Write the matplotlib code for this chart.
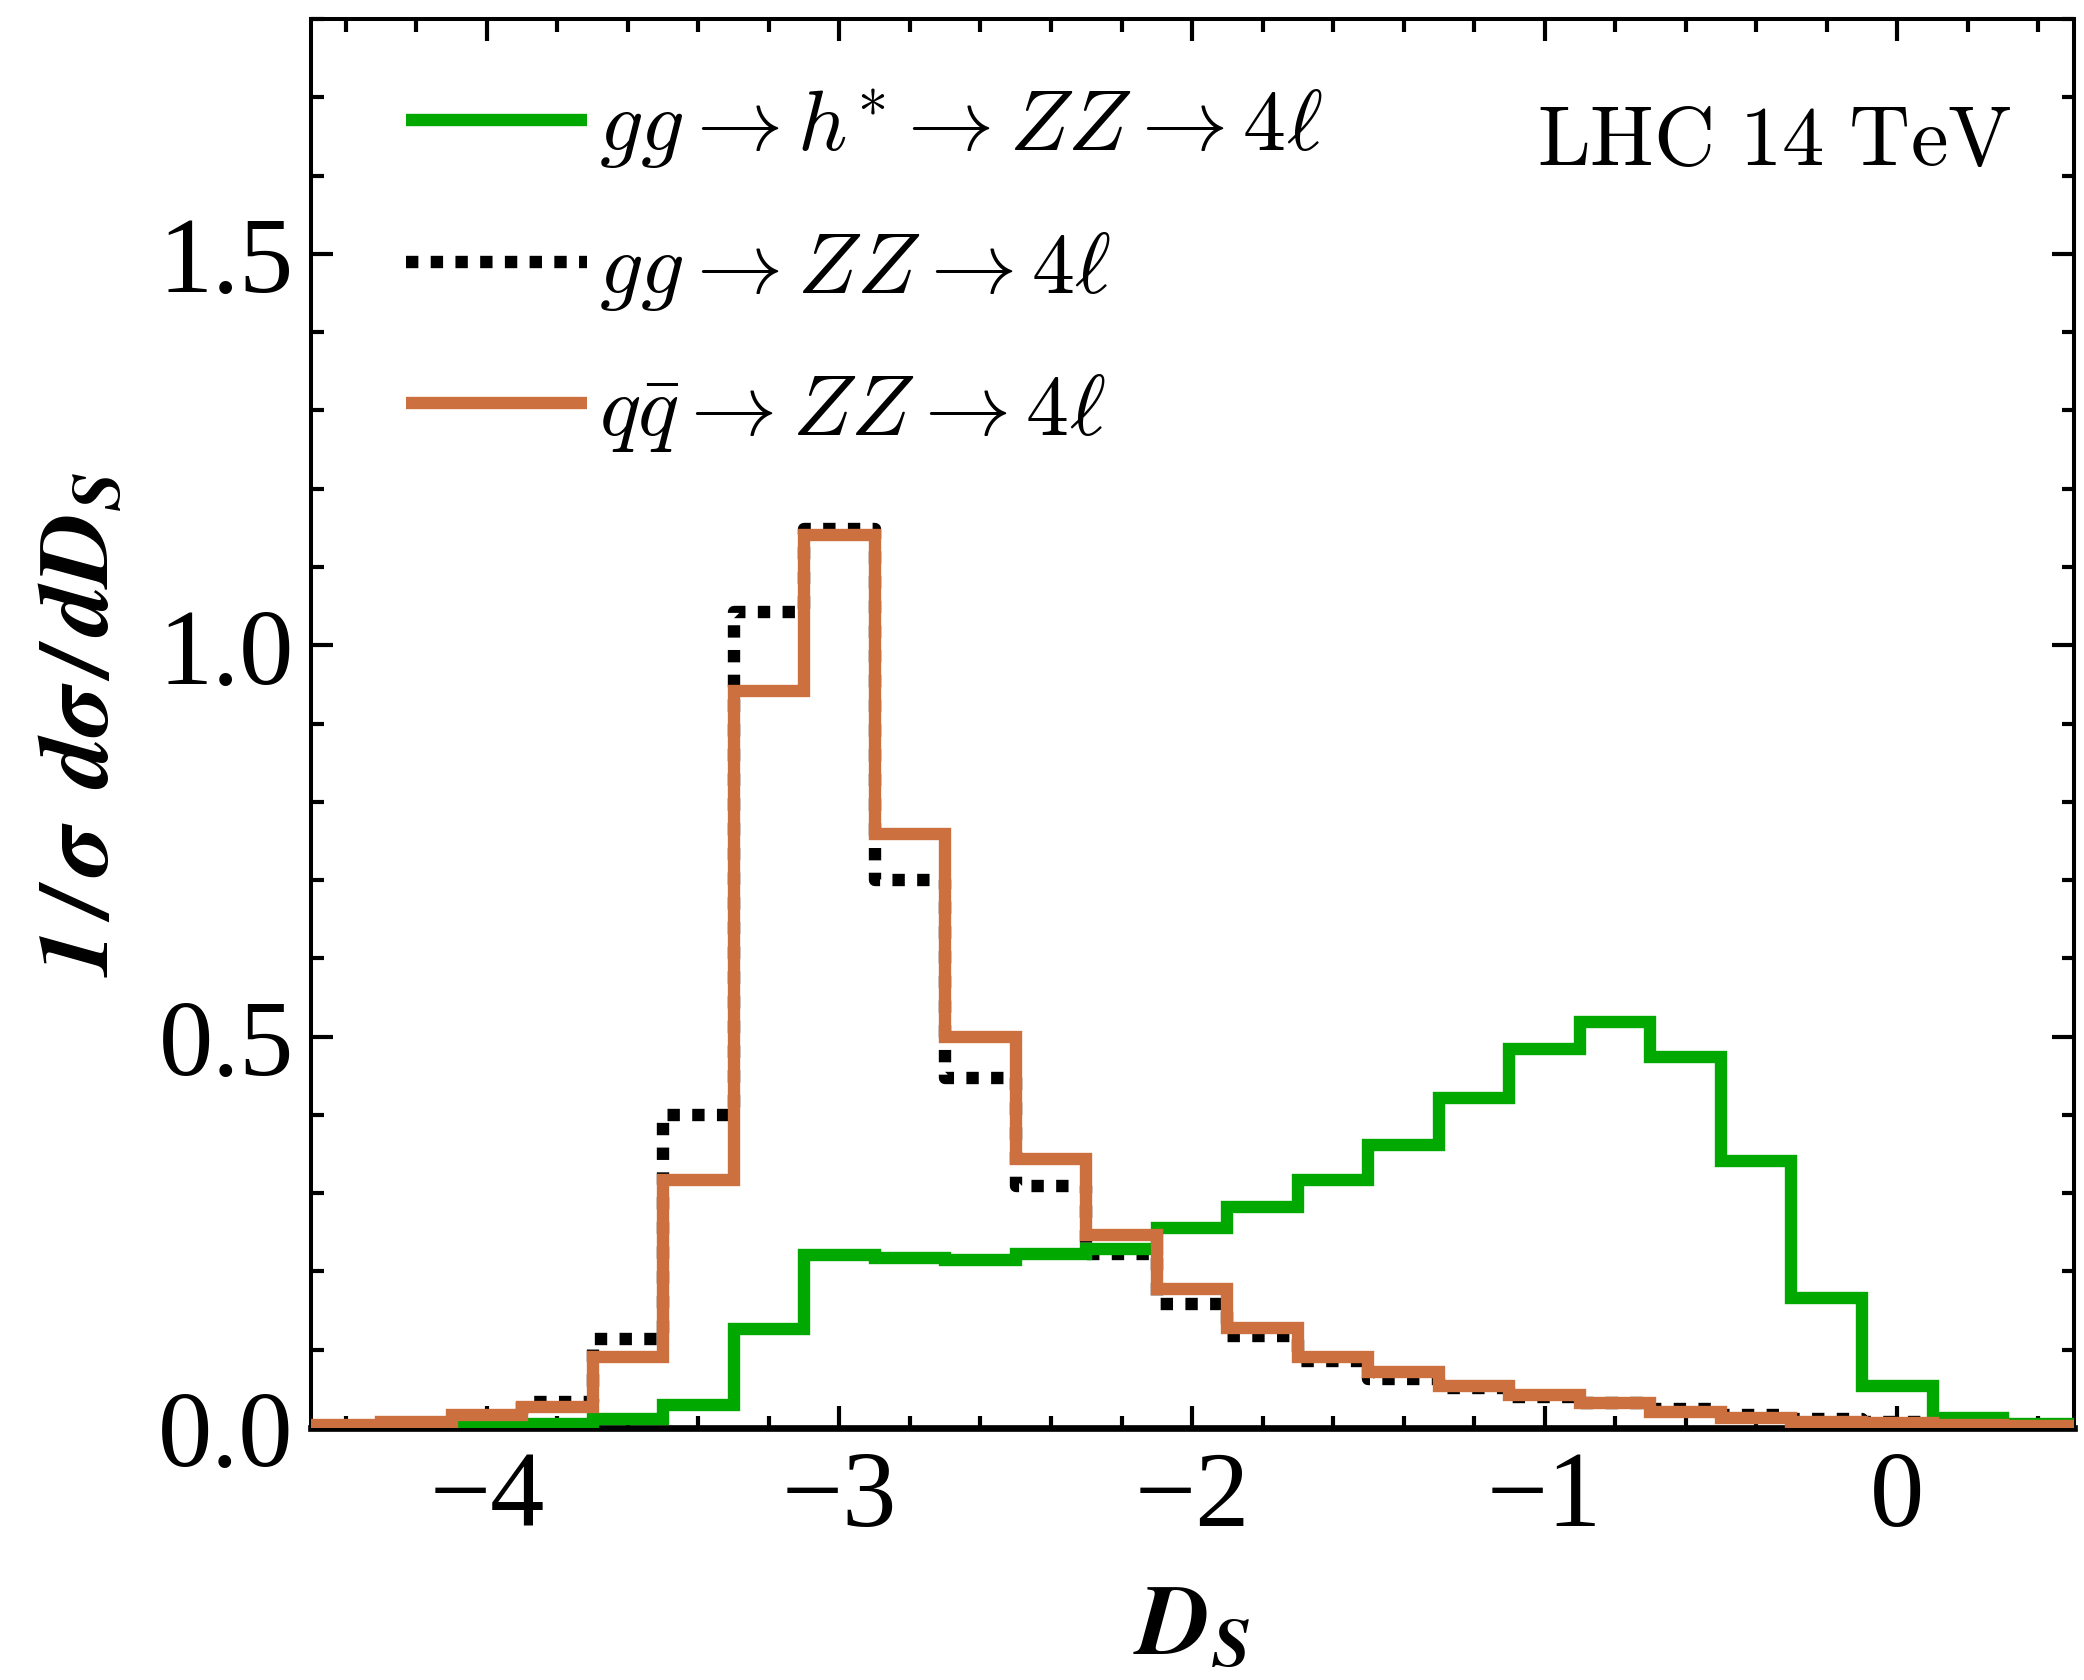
import numpy as np
import matplotlib
matplotlib.use('Agg')
import matplotlib.pyplot as plt
from matplotlib.ticker import MultipleLocator

# bin edges of D_S (width 0.2)
edges = np.round(np.arange(-4.5, 0.5001, 0.2), 2)

# 1/sigma dsigma/dD_S per bin
gg_h = [0.0, 0.0, 0.001, 0.005, 0.011, 0.029, 0.126, 0.221, 0.217, 0.214,
        0.222, 0.228, 0.255, 0.282, 0.317, 0.362, 0.421, 0.484, 0.518, 0.474,
        0.341, 0.166, 0.054, 0.012, 0.005]
gg_zz = [0.002, 0.004, 0.012, 0.033, 0.113, 0.400, 1.043, 1.149, 0.700, 0.447,
         0.309, 0.222, 0.158, 0.117, 0.085, 0.063, 0.051, 0.040, 0.032, 0.024,
         0.017, 0.011, 0.007, 0.004, 0.002]
qq_zz = [0.004, 0.007, 0.017, 0.027, 0.090, 0.317, 0.942, 1.141, 0.759, 0.499,
         0.343, 0.246, 0.178, 0.127, 0.090, 0.071, 0.054, 0.042, 0.032, 0.020,
         0.012, 0.008, 0.006, 0.004, 0.003]

labels = [r'$gg \rightarrow h^{*} \rightarrow ZZ \rightarrow 4\ell$',
          r'$gg \rightarrow ZZ \rightarrow 4\ell$',
          r'$q\bar{q} \rightarrow ZZ \rightarrow 4\ell$']

GREEN = '#00a800'
ORANGE = '#cc7040'

plt.rcParams['mathtext.fontset'] = 'cm'
plt.rcParams['font.family'] = 'Liberation Serif'

fig = plt.figure(figsize=(20.84, 16.81), dpi=100)
ax = fig.add_axes([0.149, 0.150, 0.846, 0.838])

lw = 8.9
def steps(v):
    return np.append(v, v[-1])

l2, = ax.plot(edges, steps(gg_zz), drawstyle='steps-post', color='black', lw=lw,
              linestyle=(0, (1, 1)), dash_capstyle='butt', label=labels[1], zorder=2)
l1, = ax.plot(edges, steps(gg_h), drawstyle='steps-post', color=GREEN, lw=lw,
              solid_joinstyle='miter', solid_capstyle='butt', label=labels[0], zorder=3)
l3, = ax.plot(edges, steps(qq_zz), drawstyle='steps-post', color=ORANGE, lw=lw,
              solid_joinstyle='miter', solid_capstyle='butt', label=labels[2], zorder=4)

ax.set_xlim(-4.5, 0.5)
ax.set_ylim(0, 1.8)
ax.xaxis.set_major_locator(MultipleLocator(1))
ax.xaxis.set_minor_locator(MultipleLocator(0.2))
ax.yaxis.set_major_locator(MultipleLocator(0.5))
ax.yaxis.set_minor_locator(MultipleLocator(0.1))
ax.yaxis.set_major_formatter(matplotlib.ticker.FormatStrFormatter('%.1f'))
ax.tick_params(which='both', direction='in', top=True, right=True, width=3.0,
               labelsize=78)
ax.tick_params(axis='y', pad=12)
ax.tick_params(axis='x', pad=16)
ax.tick_params(which='major', length=16)
ax.tick_params(which='minor', length=9)
for s in ['left', 'right', 'top']:
    ax.spines[s].set_linewidth(2.9)
ax.spines['bottom'].set_linewidth(4.8)

ax.set_ylabel(r'$\mathbfit{1\,/\,\sigma}\;\;\mathbfit{d\sigma\,/\,dD_S}$', fontsize=72,
              labelpad=22, math_fontfamily='stix')
ax.set_xlabel(r'$\mathbfit{D_S}$', fontsize=72, labelpad=25,
              math_fontfamily='stix')

ax.legend(handles=[l1, l2, l3], loc='upper left', bbox_to_anchor=(0.054, 0.952),
          frameon=False, fontsize=62, handlelength=2.1, handletextpad=0.15,
          labelspacing=0.68, borderpad=0, borderaxespad=0)

ax.text(0.965, 0.912, r'$\mathrm{LHC\ 14\ TeV}$', transform=ax.transAxes,
        ha='right', va='center', fontsize=61)

fig.savefig('out.png', dpi=100)
